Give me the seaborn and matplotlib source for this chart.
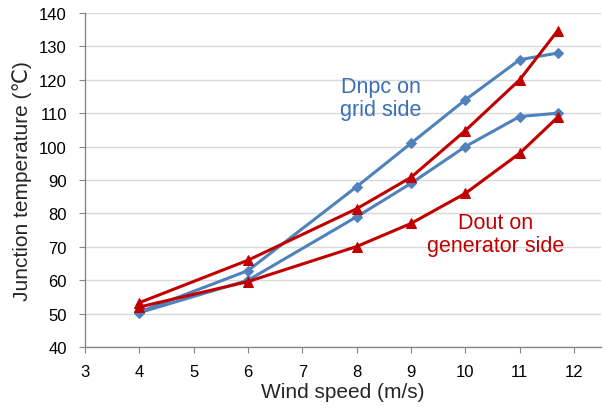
import numpy as np
import pandas as pd
import matplotlib.pyplot as plt
import seaborn as sns

wind = [4, 6, 8, 9, 10, 11, 11.7]
dnpc_a = [50.5, 62.9, 88, 101, 114, 126, 128]
dnpc_b = [50.3, 60, 79, 89, 100, 109, 110]
dout_a = [53.3, 66, 81.4, 90.8, 104.8, 120, 134.7]
dout_b = [52, 59.6, 70.1, 77, 86, 98, 108.8]

blue = '#4F81BD'
red = '#C00000'

sns.set_style('white')
plt.rcParams['font.family'] = ['Liberation Sans', 'DejaVu Sans']

fig = plt.figure(figsize=(6.03, 4.10), dpi=100)
ax = fig.add_axes([0.141, 0.151, 0.856, 0.815])

series = [(dnpc_a, blue, 'D'), (dnpc_b, blue, 'D'),
          (dout_a, red, '^'), (dout_b, red, '^')]
for vals, c, m in series:
    df = pd.DataFrame({'x': wind, 'y': vals})
    sns.lineplot(data=df, x='x', y='y', ax=ax, color=c, lw=2.2,
                 marker=m, markersize=5 if m == 'D' else 7,
                 markeredgecolor=c, sort=False)

ax.set_xlim(3, 12.5)
ax.set_ylim(40, 140)
ax.set_xticks(range(3, 13))
ax.set_yticks(range(40, 141, 10))
ax.yaxis.grid(True, color='#d9d9d9', lw=1)
ax.set_axisbelow(True)
for s in ['top', 'right']:
    ax.spines[s].set_visible(False)
for s in ['left', 'bottom']:
    ax.spines[s].set_color('#868686')
    ax.spines[s].set_linewidth(1)
ax.tick_params(axis='both', direction='out', length=4, color='#868686',
               labelsize=12, labelcolor='black', bottom=True, left=True)
ax.tick_params(axis='y', pad=9)
ax.tick_params(axis='x', pad=8)

ax.set_xlabel('Wind speed (m/s)', fontsize=15, labelpad=2)
ax.set_ylabel('Junction temperature (\u2103)', fontsize=15, labelpad=5)

ax.text(8.45, 114.5, 'Dnpc on\ngrid side', color='#3A6FB5', fontsize=15.5,
        ha='center', va='center', linespacing=1.1)
ax.text(10.55, 73.8, 'Dout on\ngenerator side', color=red, fontsize=15.5,
        ha='center', va='center', linespacing=1.1)

fig.savefig('out.png', dpi=100)
